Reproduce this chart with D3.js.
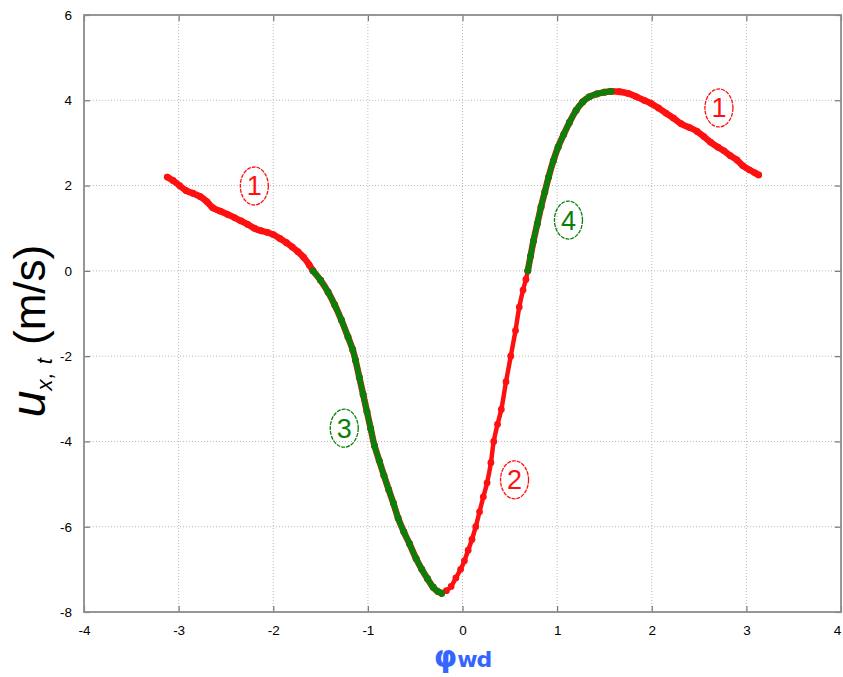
<!DOCTYPE html>
<html>
<head>
<meta charset="utf-8">
<script src="https://cdn.jsdelivr.net/npm/d3@7"></script>
<style>
  html, body { margin: 0; padding: 0; background: #fff; }
  svg { display: block; }
</style>
</head>
<body>
<svg id="chart" width="843" height="677"></svg>
<script>
// ---------------- data ----------------
const xTicks = [-4, -3, -2, -1, 0, 1, 2, 3, 4];
const yTicks = [-8, -6, -4, -2, 0, 2, 4, 6];

// Segment 1 (red), left branch
const seg1aPhi = [-3.12, -3.06, -2.99, -2.92, -2.85, -2.77, -2.70, -2.64, -2.56, -2.48, -2.41, -2.34, -2.27, -2.20, -2.13, -2.06, -2.00, -1.93, -1.86, -1.80, -1.74, -1.68, -1.62, -1.58];
const seg1aU   = [ 2.20,  2.12,  2.00,  1.88,  1.82,  1.74,  1.62,  1.48,  1.40,  1.32,  1.25,  1.17,  1.09,  1.00,  0.94,  0.90,  0.85,  0.76,  0.66,  0.56,  0.45,  0.32,  0.14,  0.00];
// Segment 3 (green), descending branch
const seg3Phi = [-1.58, -1.50, -1.42, -1.35, -1.28, -1.21, -1.16, -1.13, -1.09, -1.05, -1.01, -0.97, -0.93, -0.88, -0.83, -0.78, -0.73, -0.68, -0.62, -0.56, -0.49, -0.43, -0.37, -0.31, -0.26, -0.22];
const seg3U   = [ 0.00, -0.22, -0.50, -0.80, -1.15, -1.55, -1.85, -2.10, -2.50, -2.90, -3.30, -3.70, -4.10, -4.45, -4.80, -5.13, -5.45, -5.80, -6.12, -6.40, -6.75, -7.00, -7.22, -7.42, -7.52, -7.56];
// Segment 2 (red), rising branch
const seg2Phi = [-0.22, -0.17, -0.12, -0.07, -0.02, 0.02, 0.06, 0.10, 0.14, 0.18, 0.22, 0.26, 0.30, 0.33, 0.37, 0.41, 0.46, 0.51, 0.56, 0.60, 0.64, 0.67, 0.69];
const seg2U   = [-7.56, -7.50, -7.40, -7.20, -7.00, -6.80, -6.55, -6.30, -6.00, -5.65, -5.30, -4.97, -4.50, -4.00, -3.60, -3.25, -2.60, -2.00, -1.40, -0.85, -0.45, -0.20, 0.00];
// Segment 4 (green), rising to the peak
const seg4Phi = [0.69, 0.72, 0.75, 0.79, 0.83, 0.87, 0.91, 0.96, 1.01, 1.07, 1.13, 1.20, 1.27, 1.34, 1.42, 1.50, 1.57];
const seg4U   = [0.00, 0.35, 0.70, 1.10, 1.50, 1.85, 2.20, 2.58, 2.90, 3.20, 3.48, 3.76, 3.96, 4.08, 4.15, 4.19, 4.21];
// Segment 1 (red), right branch
const seg1bPhi = [1.57, 1.66, 1.75, 1.84, 1.92, 1.99, 2.07, 2.15, 2.23, 2.31, 2.40, 2.48, 2.55, 2.62, 2.70, 2.76, 2.83, 2.90, 2.96, 3.03, 3.09, 3.13];
const seg1bU   = [4.21, 4.20, 4.16, 4.08, 4.00, 3.93, 3.82, 3.70, 3.58, 3.45, 3.36, 3.27, 3.15, 3.02, 2.90, 2.82, 2.70, 2.60, 2.47, 2.37, 2.30, 2.25];

// Circled region labels
const labelText = ["1", "1", "2", "3", "4"];
const labelPhi  = [-2.20, 2.71, 0.55, -1.25, 1.12];
const labelU    = [ 1.99, 3.82, -4.90, -3.69, 1.19];
const labelKind = ["red", "red", "red", "green", "green"];

// ---------------- drawing ----------------
const RED = "#ff1010", GREEN = "#0a800a";
const svg = d3.select("#chart");
const L = 84, R = 841, T = 15, B = 612;
const x = d3.scaleLinear().domain([-4, 4]).range([L, R]);
const y = d3.scaleLinear().domain([-8, 6]).range([B, T]);

// grid
const grid = svg.append("g");
grid.selectAll("line.gx").data(xTicks.slice(1, -1)).join("line")
  .attr("x1", d => x(d)).attr("x2", d => x(d)).attr("y1", T).attr("y2", B)
  .attr("stroke", "#b8b8b8").attr("stroke-width", 1).attr("stroke-dasharray", "1,2");
grid.selectAll("line.gy").data(yTicks.slice(1, -1)).join("line")
  .attr("y1", d => y(d)).attr("y2", d => y(d)).attr("x1", L).attr("x2", R)
  .attr("stroke", "#b8b8b8").attr("stroke-width", 1).attr("stroke-dasharray", "1,2");

// axes (inward ticks on all four sides)
function styleAxis(g) {
  g.select(".domain").remove();
  g.selectAll(".tick line").attr("stroke", "#777").attr("stroke-width", 1.2);
  g.selectAll(".tick text").attr("fill", "#000")
    .attr("font-family", "Liberation Sans, Arial, sans-serif").attr("font-size", 13.5);
}
const fmt = d => (d < 0 ? "-" + Math.abs(d) : String(d));
const xAxisG = svg.append("g").attr("transform", `translate(0,${B})`)
  .call(d3.axisBottom(x).tickValues(xTicks).tickFormat(fmt).tickSizeInner(-6).tickSizeOuter(0).tickPadding(13))
  .call(styleAxis);
xAxisG.selectAll(".tick text").filter(d => d === 4).attr("dx", -4);
svg.append("g").attr("transform", `translate(0,${T})`)
  .call(d3.axisTop(x).tickValues(xTicks).tickFormat("").tickSizeInner(-6).tickSizeOuter(0))
  .call(styleAxis);
svg.append("g").attr("transform", `translate(${L},0)`)
  .call(d3.axisLeft(y).tickValues(yTicks).tickFormat(fmt).tickSizeInner(-6).tickSizeOuter(0).tickPadding(12))
  .call(styleAxis);
svg.append("g").attr("transform", `translate(${R},0)`)
  .call(d3.axisRight(y).tickValues(yTicks).tickFormat("").tickSizeInner(-6).tickSizeOuter(0))
  .call(styleAxis);

// frame
svg.append("rect").attr("x", L).attr("y", T).attr("width", R - L).attr("height", B - T)
  .attr("fill", "none").attr("stroke", "#8c8c8c").attr("stroke-width", 1.8);

// curves
const zip = (a, b) => a.map((v, i) => [v, b[i]]);
const line = d3.line().x(d => x(d[0])).y(d => y(d[1])).curve(d3.curveCatmullRom);
const redAll = [
  zip(seg1aPhi, seg1aU), zip(seg3Phi, seg3U), zip(seg2Phi, seg2U),
  zip(seg4Phi, seg4U), zip(seg1bPhi, seg1bU)
];
const curves = svg.append("g");
redAll.forEach((pts, i) => {
  curves.append("path").datum(pts).attr("d", line)
    .attr("fill", "none").attr("stroke", RED).attr("stroke-width", i === 2 ? 4.5 : 6.5)
    .attr("stroke-linecap", "round").attr("stroke-linejoin", "round");
});
curves.selectAll("circle.r").data(redAll.flat()).join("circle")
  .attr("cx", d => x(d[0])).attr("cy", d => y(d[1])).attr("r", 3.4).attr("fill", RED);
[zip(seg3Phi, seg3U), zip(seg4Phi, seg4U)].forEach(pts => {
  curves.append("path").datum(pts).attr("d", line)
    .attr("fill", "none").attr("stroke", GREEN).attr("stroke-width", 5.5)
    .attr("stroke-linecap", "round").attr("stroke-linejoin", "round");
  curves.selectAll(null).data(pts).join("circle")
    .attr("cx", d => x(d[0])).attr("cy", d => y(d[1])).attr("r", 3.4).attr("fill", GREEN);
});

// circled labels
const lab = svg.append("g");
labelText.forEach((t, i) => {
  const c = labelKind[i] === "red" ? RED : GREEN;
  const cx = x(labelPhi[i]), cy = y(labelU[i]);
  lab.append("ellipse").attr("cx", cx).attr("cy", cy).attr("rx", 14).attr("ry", 19)
    .attr("fill", "none").attr("stroke", c).attr("stroke-width", 1.3).attr("stroke-dasharray", "4,1");
  lab.append("text").attr("x", cx).attr("y", cy + 9.5).attr("text-anchor", "middle")
    .attr("font-family", "Liberation Sans Narrow, Liberation Sans, Arial, sans-serif")
    .attr("font-size", 27).attr("fill", c).text(t);
});

// y axis title
const yt = svg.append("text")
  .attr("transform", "translate(45,331) rotate(-90)")
  .attr("text-anchor", "middle")
  .attr("font-family", "Liberation Sans, Arial, sans-serif").attr("fill", "#000");
yt.append("tspan").attr("font-size", 48).attr("font-style", "italic").text("u");
yt.append("tspan").attr("font-size", 22).attr("font-style", "italic").attr("dy", 7)
  .attr("letter-spacing", 1).text("x, t");
yt.append("tspan").attr("font-size", 44).attr("dy", -7).text(" (m/s)");

// x axis title
const xt = svg.append("text")
  .attr("x", x(0)).attr("y", 667).attr("text-anchor", "middle")
  .attr("font-family", "DejaVu Sans, sans-serif").attr("font-weight", "bold").attr("fill", "#3366ff");
xt.append("tspan").attr("font-size", 30).text("φ");
xt.append("tspan").attr("font-size", 22).attr("letter-spacing", -1).text("wd");
</script>
</body>
</html>
